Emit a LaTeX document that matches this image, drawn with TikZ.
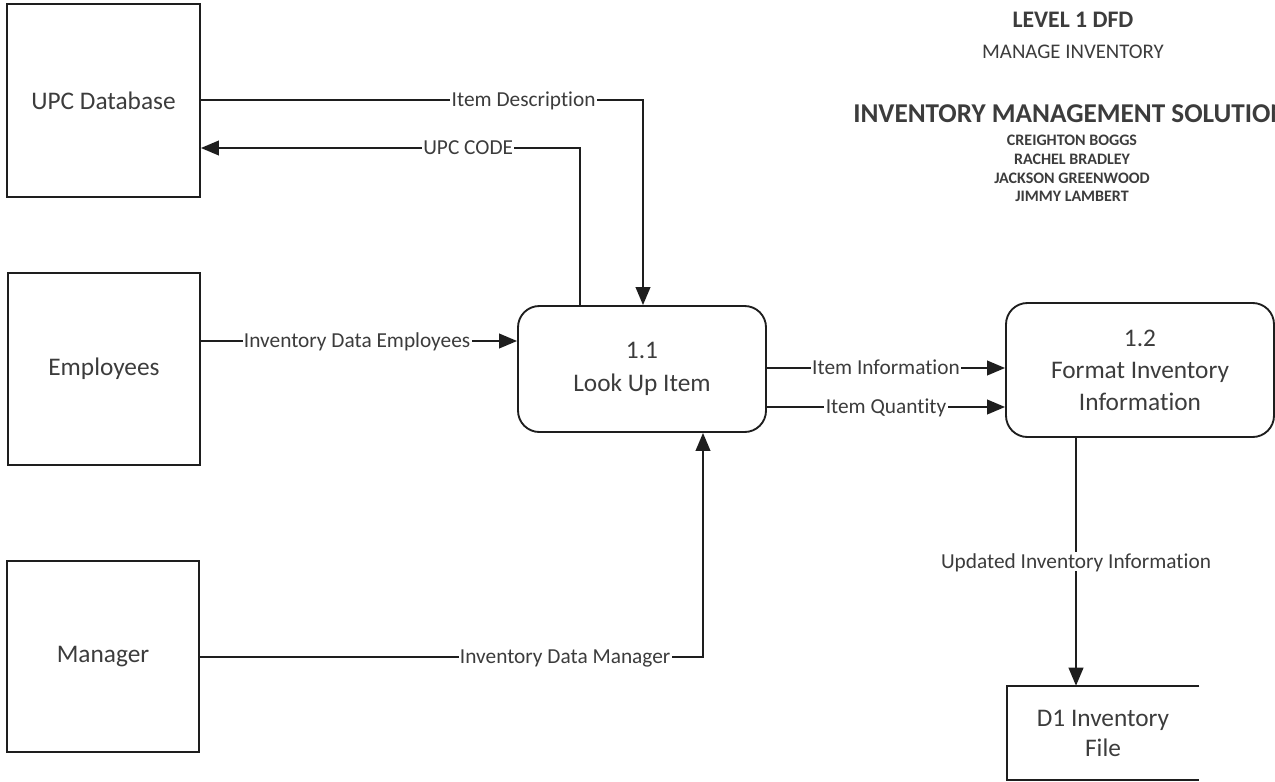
\documentclass[tikz,border=0pt]{standalone}
\usepackage{fontspec}
\setmainfont[Ligatures=NoCommon]{Carlito}
\usetikzlibrary{arrows.meta,calc}
\definecolor{txt}{HTML}{3C3C3C}
\definecolor{ln}{HTML}{1E1E1E}
\begin{document}
\begin{tikzpicture}[x=0.75pt,y=-0.75pt,
  entity/.style={draw=ln, line width=1.4pt, rectangle, inner sep=0pt,
    text=txt, font=\fontsize{19}{23.5}\selectfont, align=center},
  process/.style={draw=ln, line width=1.4pt, rectangle, rounded corners=16pt, inner sep=0pt,
    text=txt, font=\fontsize{19}{24}\selectfont, align=center},
  flow/.style={draw=ln, line width=1.4pt, -{Triangle[length=13.5pt,width=11pt]}},
  plain/.style={draw=ln, line width=1.4pt},
  lbl/.style={fill=white, inner xsep=1pt, inner ysep=2pt, text=txt,
    font=\fontsize{16}{19}\selectfont, text height=10.3pt, text depth=0pt},
  ttl/.style={text=txt, inner sep=0pt, align=center}
]
\useasboundingbox (0,0) rectangle (1275,782);
\clip (0,0) rectangle (1275,782);

% external entities
\node[entity, minimum width=144.75pt, minimum height=144.75pt] (upc) at (103.5,100.5) {UPC Database};
\node[entity, minimum width=144pt, minimum height=144pt] (emp) at (104,369) {\raisebox{-2pt}{Employees}};
\node[entity, minimum width=144pt, minimum height=143.25pt] (mgr) at (103,656.5) {Manager};

% processes
\node[process, minimum width=186pt, minimum height=94.5pt] (p11) at (642,369) {1.1\\[1pt]Look Up Item};
\node[process, minimum width=201pt, minimum height=100.5pt] (p12) at (1140,370) {1.2\\Format Inventory\\Information};

% data store
\node[inner sep=0pt, minimum width=144pt, minimum height=70.5pt, text=txt,
      font=\fontsize{19}{22.5}\selectfont, align=center] (d1) at (1103,733) {D1 Inventory\\File};
\draw[plain] (d1.north east) -- (d1.north west) -- (d1.south west) -- (d1.south east);

% bend coordinates
\coordinate (bd) at (643,100);
\coordinate (bu) at (580,148);
\coordinate (bm) at (703,657);
\coordinate (be) at (0,341);
\coordinate (bi) at (0,368);
\coordinate (bq) at (0,407);
\coordinate (bs) at (1076,0);

% flows
\draw[flow] (upc.east |- bd) -- node[lbl, pos=0.73] {Item Description} (bd) -- (bd |- p11.north);
\draw[flow] (bu |- p11.north) -- (bu) -- node[lbl, pos=0.295] {UPC CODE} (bu -| upc.east);
\draw[flow] (emp.east |- be) -- node[lbl, pos=0.494] {Inventory Data Employees} (p11.west |- be);
\draw[flow] (mgr.east |- bm) -- node[lbl, pos=0.726] {Inventory Data Manager} (bm) -- (bm |- p11.south);
\draw[flow] (p11.east |- bi) -- node[lbl] {Item Information} (p12.west |- bi);
\draw[flow] (p11.east |- bq) -- node[lbl] {Item Quantity} (p12.west |- bq);
\draw[flow] (p12.south -| bs) -- node[lbl, pos=0.498] {Updated Inventory Information} (d1.north -| bs);

% titles
\node[ttl, font=\fontsize{17.8}{20}\selectfont\bfseries] (t1) at (1073,20) {LEVEL 1 DFD};
\node[ttl, font=\fontsize{15.6}{19}\selectfont] (t2) at (1073,52) {MANAGE INVENTORY};
\node[ttl, font=\fontsize{20.4}{23}\selectfont\bfseries, anchor=west] (t3) at (853,114) {INVENTORY MANAGEMENT SOLUTION};
\node[ttl, font=\fontsize{12}{14}\selectfont\bfseries] (n1) at (1072,140) {CREIGHTON BOGGS};
\node[ttl, font=\fontsize{12}{14}\selectfont\bfseries] (n2) at (1072,159) {RACHEL BRADLEY};
\node[ttl, font=\fontsize{12}{14}\selectfont\bfseries] (n3) at (1072,178) {JACKSON GREENWOOD};
\node[ttl, font=\fontsize{12}{14}\selectfont\bfseries] (n4) at (1072,196) {JIMMY LAMBERT};
\end{tikzpicture}
\end{document}
